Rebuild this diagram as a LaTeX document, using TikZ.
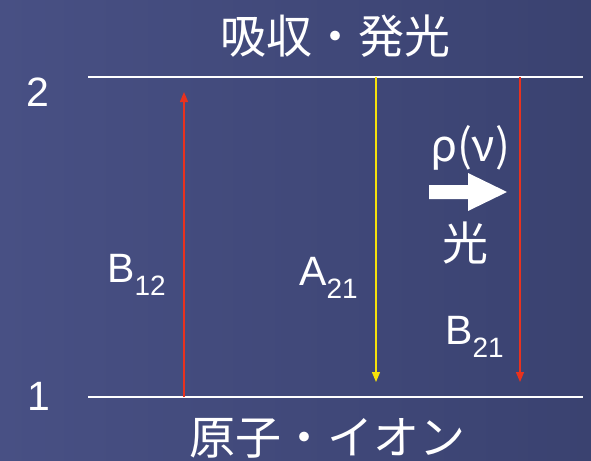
\documentclass[tikz,border=0pt]{standalone}
\usepackage{fontspec}
\setmainfont{Liberation Sans}
\newfontfamily\jp{Noto Sans CJK JP}
\usetikzlibrary{arrows.meta}
\definecolor{bgL}{RGB}{72,80,132}
\definecolor{bgR}{RGB}{58,66,112}
\definecolor{redA}{RGB}{232,50,30}
\definecolor{yelA}{RGB}{246,226,10}
\tikzset{
  lvl/.style={white,line width=2.2pt},
  trans/.style={line width=1.3pt,-{Triangle[length=10pt,width=8pt]}},
  lab/.style={text=white,inner sep=0pt,font=\fontsize{41}{41}\selectfont},
  jplab/.style={text=white,inner sep=0pt,font=\jp\fontsize{46}{46}\selectfont},
}
\newcommand{\subl}[1]{\raisebox{-13pt}{\fontsize{28}{28}\selectfont #1}}
\begin{document}
\begin{tikzpicture}[x=1pt,y=-1pt]
\shade[left color=bgL,right color=bgR] (0,0) rectangle (591,460);
\useasboundingbox (0,0) rectangle (591,460);
% levels
\coordinate (u0) at (88,77); \coordinate (u1) at (583,77);
\coordinate (l0) at (88,397); \coordinate (l1) at (583,397);
\draw[lvl] (u0) -- (u1);
\draw[lvl] (l0) -- (l1);
\node[lab] (n2) at (38,92) {2};
\node[lab] (n1) at (39,396) {1};
% transitions
\coordinate (b12s) at (184,397); \coordinate (b12e) at (184,92);
\coordinate (a21s) at (376,77); \coordinate (a21e) at (376,382);
\coordinate (b21s) at (520,77); \coordinate (b21e) at (520,382);
\draw[trans,redA] (b12s) -- (b12e);
\draw[trans,yelA] (a21s) -- (a21e);
\draw[trans,redA] (b21s) -- (b21e);
% labels
\node[lab,anchor=base west] (lb12) at (107,282) {B\subl{12}};
\node[lab,anchor=base west] (la21) at (299,285) {A\subl{21}};
\node[lab,anchor=base west] (lb21) at (445,344) {B\subl{21}};
\node[text=white,inner sep=0pt,font=\jp\fontsize{44}{44}\selectfont] (rho) at (470,148) {ρ(ν)};
\fill[white] (429,185) -- (468,185) -- (468,173) -- (507,192) -- (468,211) -- (468,199) -- (429,199) -- cycle;
\node[jplab] (hikari) at (465,243) {光};
\node[jplab] (title) at (335,36) {吸収・発光};
\node[jplab] (bottom) at (327,438) {原子・イオン};
\end{tikzpicture}
\end{document}
